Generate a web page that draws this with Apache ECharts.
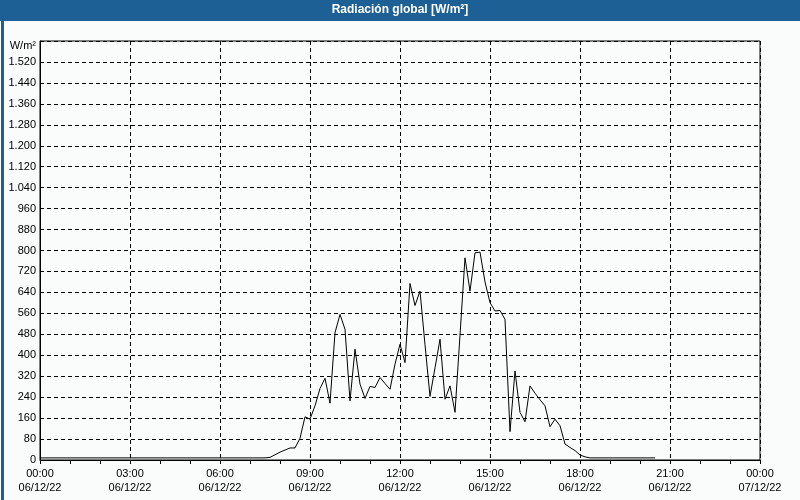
<!DOCTYPE html>
<html>
<head>
<meta charset="utf-8">
<script src="https://cdn.jsdelivr.net/npm/echarts@6/dist/echarts.min.js"></script>
<style>
html,body{margin:0;padding:0;background:#fff;}
#c{width:800px;height:500px;}
</style>
</head>
<body>
<div id="c"></div>
<script>
// Time of each reading (HH:MM) on 06/12/22
var times = ["00:00","07:30","07:40","07:50","08:00","08:10","08:20","08:30","08:40","08:50",
  "09:00","09:10","09:20","09:30","09:40","09:50","10:00","10:10","10:20","10:30",
  "10:40","10:50","11:00","11:10","11:20","11:30","11:40","11:50","12:00","12:10",
  "12:20","12:30","12:40","12:50","13:00","13:10","13:20","13:30","13:40","13:50",
  "14:00","14:10","14:20","14:30","14:40","14:50","15:00","15:10","15:20","15:30",
  "15:40","15:50","16:00","16:10","16:20","16:30","16:40","16:50","17:00","17:10",
  "17:20","17:30","17:40","17:50","18:00","18:10","18:20","20:30"];
// Global radiation, W/m²
var radiation = [8,8,10,20,30,38,46,46,83,165,
  156,207,273,312,217,486,556,499,226,423,
  290,235,281,277,315,292,270,366,442,372,
  674,590,645,440,243,352,461,232,283,182,
  477,772,645,791,794,680,601,569,571,537,
  108,340,182,146,283,255,230,207,127,156,
  131,61,48,36,19,12,8,8];
// X tick labels (every 3 hours)
var xTickTimes = ["00:00","03:00","06:00","09:00","12:00","15:00","18:00","21:00","00:00"];
var xTickDates = ["06/12/22","06/12/22","06/12/22","06/12/22","06/12/22","06/12/22","06/12/22","06/12/22","07/12/22"];
var titleText = "Radiación global [W/m²]";
var unitText = "W/m²";

function toMin(s){var p=s.split(":");return (+p[0])*60+(+p[1]);}
var seriesData = times.map(function(t,i){return [toMin(t), radiation[i]];});

var FONT = "Liberation Sans";
var chart = echarts.init(document.getElementById('c'), null, {renderer:'canvas'});
chart.setOption({
  animation:false,
  backgroundColor:'#fafcfc',
  grid:{left:40,right:40,top:41,bottom:40,show:true,borderColor:'#000',borderWidth:1,backgroundColor:'transparent'},
  xAxis:{
    type:'value',min:0,max:1440,interval:180,
    axisLine:{onZero:false,lineStyle:{color:'#000',width:1}},
    axisTick:{show:true,inside:false,length:4,lineStyle:{color:'#000'}},
    minorTick:{show:true,splitNumber:3,length:4,lineStyle:{color:'#000'}},
    splitLine:{show:true,lineStyle:{color:'#000',type:[4,3],width:1}},
    axisLabel:{
      margin:7,color:'#000',fontFamily:FONT,fontSize:11,lineHeight:14,
      formatter:function(v){var i=Math.round(v/180);return xTickTimes[i]+"\n"+xTickDates[i];}
    }
  },
  yAxis:{
    type:'value',min:0,max:1600,interval:80,
    axisLine:{show:true,lineStyle:{color:'#000',width:1}},
    axisTick:{show:false},
    splitLine:{show:true,lineStyle:{color:'#000',type:[4,3],width:1}},
    axisLabel:{
      margin:4,color:'#000',fontFamily:FONT,fontSize:11,
      formatter:function(v){
        if(v>=1600) return '';
        var s=String(v);
        if(v>=1000) s=s.slice(0,s.length-3)+'.'+s.slice(s.length-3);
        return s;
      }
    }
  },
  series:[{
    type:'line',data:seriesData,showSymbol:false,symbol:'none',
    lineStyle:{color:'#000',width:1},
    clip:true
  }],
  graphic:[
    {type:'rect',left:0,top:0,shape:{width:800,height:21},style:{fill:'#1c6096'},silent:true},
    {type:'rect',left:0,top:0,shape:{width:800,height:500},style:{fill:'none',stroke:'#1c6096',lineWidth:3},silent:true},
    {type:'text',x:400,y:10,style:{text:titleText,fill:'#fff',font:'bold 12px "Liberation Sans"',textAlign:'center',textVerticalAlign:'middle'}},
    {type:'text',x:36,y:46,style:{text:unitText,fill:'#000',font:'11px "Liberation Sans"',textAlign:'right',textVerticalAlign:'middle'}}
  ]
});
</script>
</body>
</html>
